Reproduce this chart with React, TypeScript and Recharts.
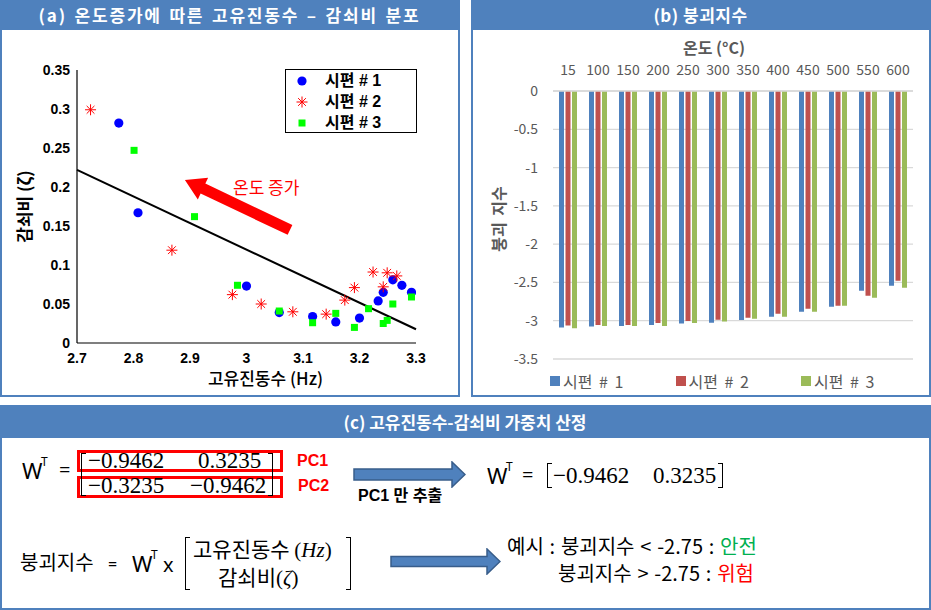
import React from 'react';
import {
  ScatterChart, Scatter, XAxis, YAxis, ReferenceLine, Legend,
  BarChart, Bar, CartesianGrid,
} from 'recharts';

const FRAME = '#4F81BD';
const KR = '"Noto Sans CJK KR", "Noto Sans", sans-serif';
const ARIAL = '"Liberation Sans", "Noto Sans CJK KR", sans-serif';
const MATH = '"Liberation Serif", "DejaVu Serif", serif';

// (a) natural frequency (Hz) / damping ratio, one pair of lists per specimen
const freq1 = [2.774, 2.808, 3.0, 3.058, 3.117, 3.158, 3.2, 3.233, 3.242, 3.259, 3.275, 3.292];
const damp1 = [0.282, 0.167, 0.073, 0.039, 0.034, 0.027, 0.032, 0.054, 0.065, 0.081, 0.074, 0.065];
const freq2 = [2.724, 2.868, 2.975, 3.026, 3.082, 3.141, 3.174, 3.191, 3.224, 3.242, 3.249, 3.266];
const damp2 = [0.299, 0.119, 0.062, 0.05, 0.04, 0.037, 0.055, 0.071, 0.091, 0.072, 0.09, 0.086];
const freq3 = [2.801, 2.908, 2.984, 3.058, 3.117, 3.158, 3.191, 3.216, 3.242, 3.249, 3.259, 3.292];
const damp3 = [0.247, 0.162, 0.074, 0.041, 0.026, 0.038, 0.02, 0.044, 0.025, 0.029, 0.05, 0.059];
const specimenNames = ['시편 # 1', '시편 # 2', '시편 # 3'];

// fitted trend line, end points
const trendFreq = [2.7, 3.3];
const trendDamp = [0.222, 0.0176];

// "온도 증가" arrow, tail then head
const arrowFreq = [3.077, 2.891];
const arrowDamp = [0.145, 0.209];

const freqTicks = [2.7, 2.8, 2.9, 3, 3.1, 3.2, 3.3];
const dampTicks = [0, 0.05, 0.1, 0.15, 0.2, 0.25, 0.3, 0.35];

// (b) collapse index per temperature
const temps = ['15', '100', '150', '200', '250', '300', '350', '400', '450', '500', '550', '600'];
const collapse1 = [-3.09, -3.077, -3.068, -3.055, -3.037, -3.027, -2.99, -2.948, -2.882, -2.817, -2.609, -2.543];
const collapse2 = [-3.064, -3.055, -3.055, -3.029, -3.003, -2.988, -2.961, -2.909, -2.843, -2.803, -2.674, -2.478];
const collapse3 = [-3.1, -3.068, -3.068, -3.068, -3.029, -3.011, -2.973, -2.948, -2.882, -2.803, -2.7, -2.57];
const collapseTicks = [0, -0.5, -1, -1.5, -2, -2.5, -3, -3.5];
const barColors = ['#4F81BD', '#C0504D', '#9BBB59'];

const toPoints = (xs: number[], ys: number[]) => xs.map((x, i) => ({ x, y: ys[i] }));

const barData = temps.map((t, i) => ({
  temp: t,
  s1: collapse1[i],
  s2: collapse2[i],
  s3: collapse3[i],
}));

const DotMark = ({ cx, cy }: any) => <circle cx={cx} cy={cy} r={4.6} fill="#0000FF" />;
const StarMark = ({ cx, cy }: any) => {
  const r = 5.5;
  const d = r * 0.707;
  return (
    <g stroke="#FF0000" strokeWidth={1}>
      <line x1={cx} y1={cy - r} x2={cx} y2={cy + r} />
      <line x1={cx - r} y1={cy} x2={cx + r} y2={cy} />
      <line x1={cx - d} y1={cy - d} x2={cx + d} y2={cy + d} />
      <line x1={cx - d} y1={cy + d} x2={cx + d} y2={cy - d} />
    </g>
  );
};
const SquareMark = ({ cx, cy }: any) => (
  <rect x={cx - 3.5} y={cy - 3.5} width={7} height={7} fill="#00FF00" />
);
const markShapes = [DotMark, StarMark, SquareMark];

const BigArrow = (props: any) => {
  const { x1, y1, x2, y2 } = props;
  const dx = x2 - x1;
  const dy = y2 - y1;
  const len = Math.hypot(dx, dy);
  const ux = dx / len, uy = dy / len;
  const nx = -uy, ny = ux;
  const hw = 5.5, hh = 12, hl = 20;
  const bx = x2 - ux * hl, by = y2 - uy * hl;
  const pts = [
    [x1 + nx * hw, y1 + ny * hw],
    [bx + nx * hw, by + ny * hw],
    [bx + nx * hh, by + ny * hh],
    [x2, y2],
    [bx - nx * hh, by - ny * hh],
    [bx - nx * hw, by - ny * hw],
    [x1 - nx * hw, y1 - ny * hw],
  ];
  return <polygon points={pts.map(p => p.join(',')).join(' ')} fill="#FF0000" />;
};

const ScatterLegend = () => (
  <div style={{ position: 'relative', width: 132, height: 64, border: '1.5px solid #000', boxSizing: 'border-box', background: '#fff' }}>
    {specimenNames.map((name, i) => {
      const Mark = markShapes[i];
      const cy = [11, 32, 53][i];
      return (
        <React.Fragment key={name}>
          <svg style={{ position: 'absolute', left: 8, top: cy - 8 }} width={16} height={16}>
            <Mark cx={8} cy={8} />
          </svg>
          <span style={{ position: 'absolute', left: 39, top: cy - 11, fontFamily: ARIAL, fontWeight: 'bold', fontSize: 16, lineHeight: '22px', color: '#000', whiteSpace: 'nowrap' }}>{name}</span>
        </React.Fragment>
      );
    })}
  </div>
);

const BarLegend = () => (
  <div style={{ position: 'relative', width: 380, height: 20 }}>
    {specimenNames.map((name, i) => (
      <div key={name} style={{ position: 'absolute', left: i * 125.5, top: 0, display: 'flex', alignItems: 'center', whiteSpace: 'nowrap' }}>
        <div style={{ width: 10, height: 10, background: barColors[i], marginRight: 3 }} />
        <span style={{ fontFamily: KR, fontSize: 16, color: '#595959', lineHeight: '20px', wordSpacing: 3 }}>{name}</span>
      </div>
    ))}
  </div>
);

const Panel = ({ x, y, w, h, headerH, title, spacing = 0, words = 0 }: any) => (
  <div style={{ position: 'absolute', left: x, top: y, width: w, height: h, border: `2.5px solid ${FRAME}`, boxSizing: 'border-box' }}>
    <div style={{ position: 'absolute', left: -2.5, top: -2.5, width: w, height: headerH, background: FRAME, color: '#fff', fontFamily: KR, fontWeight: 'bold', fontSize: 17, lineHeight: `${headerH}px`, textAlign: 'center', letterSpacing: spacing, wordSpacing: words }}>
      {title}
    </div>
  </div>
);

const T = ({ x, cy, size, children, family = KR, weight = 'normal', color = '#000', italic = false, words = 0 }: any) => (
  <span style={{ position: 'absolute', left: x, top: cy - size * 0.56, fontFamily: family, fontSize: size, fontWeight: weight, color, lineHeight: 1, whiteSpace: 'nowrap', fontStyle: italic ? 'italic' : 'normal', wordSpacing: words }}>
    {children}
  </span>
);

const Bracket = ({ x, top, h, side }: any) => (
  <div style={{
    position: 'absolute', left: x, top, width: 5, height: h, boxSizing: 'border-box',
    borderTop: '1.3px solid #000', borderBottom: '1.3px solid #000',
    borderLeft: side === 'left' ? '1.3px solid #000' : 'none',
    borderRight: side === 'right' ? '1.3px solid #000' : 'none',
  }} />
);

const BlockArrow = ({ x, cy, w, shaft, head, headL }: any) => {
  const H = head + 2;
  const m = H / 2;
  const pts = [
    [1, m - shaft / 2], [w - headL, m - shaft / 2], [w - headL, m - head / 2], [w - 1, m],
    [w - headL, m + head / 2], [w - headL, m + shaft / 2], [1, m + shaft / 2],
  ];
  return (
    <svg style={{ position: 'absolute', left: x, top: cy - m }} width={w} height={H}>
      <polygon points={pts.map(p => p.join(',')).join(' ')} fill={FRAME} stroke="#385D8A" strokeWidth={1.5} />
    </svg>
  );
};

const RedBox = ({ top }: any) => (
  <div style={{ position: 'absolute', left: 77, top, width: 206, height: 22, border: '3px solid #FF0000', boxSizing: 'border-box' }} />
);

export default function App() {
  return (
    <div style={{ position: 'absolute', left: 0, top: 0, width: 931, height: 610, background: '#fff', overflow: 'hidden' }}>
      <Panel x={0} y={0} w={460} h={397} headerH={30} spacing={1.8} words={2} title="(a) 온도증가에 따른 고유진동수 – 감쇠비 분포" />
      <Panel x={471} y={0} w={460} h={397} headerH={30} spacing={0.5} title="(b) 붕괴지수" />
      <Panel x={0} y={405} w={931} h={205} headerH={33} title="(c) 고유진동수-감쇠비 가중치 산정" />

      {/* (a) scatter */}
      <div style={{ position: 'absolute', left: 0, top: 0 }}>
        <ScatterChart width={460} height={397} margin={{ top: 70, right: 44, bottom: 30, left: 0 }}>
          <XAxis
            type="number" dataKey="x" domain={[2.7, 3.3]} ticks={freqTicks} allowDataOverflow
            height={24} tickLine={false} tickSize={0} tickMargin={10}
            axisLine={{ stroke: '#000', strokeWidth: 1.2 }}
            tick={{ fill: '#000', fontFamily: ARIAL, fontWeight: 'bold', fontSize: 14 }}
            label={{ value: '고유진동수 (Hz)', position: 'bottom', offset: 6, dx: 19, fill: '#000', fontFamily: KR, fontSize: 17, fontWeight: 500 }}
          />
          <YAxis
            type="number" dataKey="y" domain={[0, 0.35]} ticks={dampTicks} allowDataOverflow
            width={77} tickLine={false} tickSize={0} tickMargin={7}
            axisLine={{ stroke: '#000', strokeWidth: 1.2 }}
            tick={{ fill: '#000', fontFamily: ARIAL, fontWeight: 'bold', fontSize: 14 }}
            label={{ value: '감쇠비 (ζ)', angle: -90, position: 'insideLeft', offset: 25, textAnchor: 'middle', fill: '#000', fontFamily: KR, fontSize: 17, fontWeight: 'bold' }}
          />
          <ReferenceLine
            segment={[{ x: trendFreq[0], y: trendDamp[0] }, { x: trendFreq[1], y: trendDamp[1] }]}
            stroke="#000" strokeWidth={2}
          />
          <ReferenceLine
            segment={[{ x: arrowFreq[0], y: arrowDamp[0] }, { x: arrowFreq[1], y: arrowDamp[1] }]}
            shape={(p: any) => <BigArrow {...p} />}
          />
          <Scatter name={specimenNames[0]} data={toPoints(freq1, damp1)} shape={(p: any) => <DotMark {...p} />} isAnimationActive={false} />
          <Scatter name={specimenNames[1]} data={toPoints(freq2, damp2)} shape={(p: any) => <StarMark {...p} />} isAnimationActive={false} />
          <Scatter name={specimenNames[2]} data={toPoints(freq3, damp3)} shape={(p: any) => <SquareMark {...p} />} isAnimationActive={false} />
          <Legend
            layout="horizontal" verticalAlign="middle" align="center"
            wrapperStyle={{ left: 285, top: 69, width: 132, height: 64 }}
            content={() => <ScatterLegend />}
          />
        </ScatterChart>
      </div>
      <T x={233} cy={188} size={17} color="#FF0000">온도 증가</T>

      {/* (b) collapse index bars */}
      <div style={{ position: 'absolute', left: 471, top: 0 }}>
        <BarChart width={460} height={397} data={barData} margin={{ top: 40, right: 18, bottom: 38, left: 0 }} barSize={5} barGap={1.5}>
          <CartesianGrid vertical={false} stroke="#D9D9D9" strokeWidth={1.3} />
          <XAxis
            dataKey="temp" orientation="top" height={51} tickLine={false} tickSize={0} tickMargin={16}
            axisLine={{ stroke: '#D9D9D9', strokeWidth: 1.3 }} interval={0}
            tick={{ fill: '#595959', fontFamily: KR, fontSize: 14 }}
            label={{ value: '온도 (°C)', position: 'insideTop', offset: 3, dx: -19, fill: '#595959', fontFamily: KR, fontSize: 16, fontWeight: 'bold' }}
          />
          <YAxis
            domain={[-3.5, 0]} ticks={collapseTicks} width={82} tickLine={false} tickSize={0} tickMargin={15}
            axisLine={false}
            tick={{ fill: '#595959', fontFamily: KR, fontSize: 14 }}
            label={{ value: '붕괴 지수', angle: -90, position: 'insideLeft', offset: 28, dy: -6, textAnchor: 'middle', fill: '#595959', fontFamily: KR, fontSize: 16, fontWeight: 'bold', wordSpacing: 3 }}
          />
          <Bar dataKey="s1" name={specimenNames[0]} fill={barColors[0]} isAnimationActive={false} />
          <Bar dataKey="s2" name={specimenNames[1]} fill={barColors[1]} isAnimationActive={false} />
          <Bar dataKey="s3" name={specimenNames[2]} fill={barColors[2]} isAnimationActive={false} />
          <Legend
            layout="horizontal" verticalAlign="middle" align="center"
            wrapperStyle={{ left: 79, top: 371, width: 380, height: 20 }}
            content={() => <BarLegend />}
          />
        </BarChart>
      </div>

      {/* (c) weights */}
      <T x={22} cy={471} size={22} family='"Noto Sans", sans-serif'>W</T>
      <T x={41} cy={463} size={12} family='"Noto Sans", sans-serif'>T</T>
      <T x={59} cy={471} size={20} family='"Noto Sans", sans-serif'>=</T>
      <RedBox top={450} />
      <RedBox top={476} />
      <Bracket x={81} top={453} h={43} side="left" />
      <Bracket x={268} top={453} h={43} side="right" />
      <T x={88} cy={462} size={23} family={MATH}>−0.9462</T>
      <T x={198} cy={462} size={23} family={MATH}>0.3235</T>
      <T x={88} cy={487} size={23} family={MATH}>−0.3235</T>
      <T x={190} cy={487} size={23} family={MATH}>−0.9462</T>
      <T x={297} cy={462} size={16} family={ARIAL} weight="bold" color="#FF0000">PC1</T>
      <T x={298} cy={487} size={16} family={ARIAL} weight="bold" color="#FF0000">PC2</T>
      <BlockArrow x={353} cy={474} w={113} shaft={11} head={25} headL={14} />
      <T x={358} cy={497} size={16} family={ARIAL} weight="bold">PC1 만 추출</T>

      <T x={487} cy={476} size={22} family='"Noto Sans", sans-serif'>W</T>
      <T x={506} cy={468} size={12} family='"Noto Sans", sans-serif'>T</T>
      <T x={522} cy={476} size={20} family='"Noto Sans", sans-serif'>=</T>
      <Bracket x={547} top={463} h={25} side="left" />
      <T x={553} cy={477} size={23} family={MATH}>−0.9462</T>
      <T x={653} cy={477} size={23} family={MATH}>0.3235</T>
      <Bracket x={718} top={463} h={25} side="right" />

      <T x={20} cy={563} size={20}>붕괴지수</T>
      <T x={108} cy={565} size={16} family='"Noto Sans", sans-serif'>=</T>
      <T x={132} cy={564} size={22} family='"Noto Sans", sans-serif'>W</T>
      <T x={151} cy={556} size={12} family='"Noto Sans", sans-serif'>T</T>
      <T x={163} cy={566} size={20} family='"Noto Sans", sans-serif'>x</T>
      <Bracket x={185} top={537} h={53} side="left" />
      <Bracket x={346} top={537} h={53} side="right" />
      <T x={193} cy={550} size={21}>
        고유진동수 <span style={{ fontFamily: MATH }}>(<i>Hz</i>)</span>
      </T>
      <T x={218} cy={578} size={21}>
        감쇠비<span style={{ fontFamily: MATH }}>(<i>ζ</i>)</span>
      </T>
      <BlockArrow x={390} cy={561} w={111} shaft={10} head={25} headL={14} />
      <T x={507} cy={547} size={20} words={1.3}>
        예시 : 붕괴지수 &lt; -2.75 : <span style={{ color: '#00B050' }}>안전</span>
      </T>
      <T x={558} cy={574} size={20} words={1.3}>
        붕괴지수 &gt; -2.75 : <span style={{ color: '#FF0000' }}>위험</span>
      </T>
    </div>
  );
}
